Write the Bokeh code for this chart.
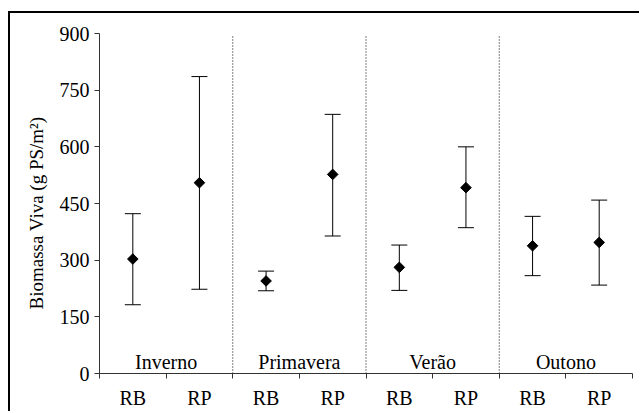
import math
from bokeh.plotting import figure
from bokeh.models import Range1d, FixedTicker, Whisker, ColumnDataSource, TeeHead
from bokeh.core.properties import value
from bokeh.embed import file_html
from bokeh.resources import INLINE

# ---- data ----
groups = ["RB", "RP", "RB", "RP", "RB", "RP", "RB", "RP"]
seasons = ["Inverno", "Primavera", "Verão", "Outono"]
means = [303, 505, 245, 527, 281, 492, 338, 347]
upper = [423, 786, 271, 686, 340, 600, 416, 459]
lower = [182, 223, 219, 364, 220, 386, 259, 234]
y_ticks = [0, 150, 300, 450, 600, 750, 900]

FONT = "Liberation Serif"
FS = "20px"

xs = [i + 0.5 for i in range(len(groups))]
src = ColumnDataSource(dict(x=xs, mean=means, upper=upper, lower=lower))

p = figure(width=631, height=400, output_backend="svg", toolbar_location=None,
           x_range=Range1d(0, len(groups)), y_range=Range1d(0, 900),
           min_border_left=89, min_border_right=9, min_border_top=20, min_border_bottom=40,
           styles={"margin-left": "8px", "margin-top": "11px",
                   "border-top": "2px solid black", "border-left": "2px solid black"})
p.outline_line_color = None
p.grid.visible = False
p.background_fill_color = "white"
p.border_fill_color = "white"

# y axis
p.yaxis.ticker = FixedTicker(ticks=y_ticks)
p.yaxis.major_tick_out = 5
p.yaxis.major_tick_in = 0
p.yaxis.minor_tick_line_color = None
p.yaxis.major_label_text_font = FONT
p.yaxis.major_label_text_font_size = FS
p.yaxis.major_label_text_color = "black"
p.yaxis.major_label_standoff = 5
p.yaxis.axis_line_color = "#333333"
p.yaxis.major_tick_line_color = "#333333"
p.yaxis.axis_label = "Biomassa Viva (g PS/m²)\u2002\u2002"
p.yaxis.axis_label_text_font = FONT
p.yaxis.axis_label_text_font_size = "19px"
p.yaxis.axis_label_text_font_style = "normal"
p.yaxis.axis_label_text_color = "black"
p.yaxis.axis_label_standoff = 10

# x axis: labels at category centers, tick marks at boundaries
p.xaxis.ticker = FixedTicker(ticks=xs, minor_ticks=list(range(len(groups) + 1)))
p.xaxis.major_label_overrides = {x: g for x, g in zip(xs, groups)}
p.xaxis.major_tick_out = 0
p.xaxis.major_tick_in = 0
p.xaxis.minor_tick_out = 5
p.xaxis.minor_tick_in = 0
p.xaxis.minor_tick_line_color = "#333333"
p.xaxis.axis_line_color = "#333333"
p.xaxis.major_label_text_font = FONT
p.xaxis.major_label_text_font_size = FS
p.xaxis.major_label_text_color = "black"
p.xaxis.major_label_standoff = 8

# season separators (dotted)
seps = [2, 4, 6]
p.segment(x0=seps, x1=seps, y0=[0] * 3, y1=[893] * 3, line_color="black",
          line_width=1, line_dash="1 2")

# season labels
p.text(x=[1, 3, 5, 7], y=[30] * 4, text=seasons, text_align="center",
       text_baseline="alphabetic", text_font=value(FONT), text_font_size=FS,
       text_color="black")

# error bars
w = Whisker(base="x", upper="upper", lower="lower", source=src, dimension="height",
            line_color="black", line_width=1,
            upper_head=TeeHead(size=16, line_color="black", line_width=1),
            lower_head=TeeHead(size=16, line_color="black", line_width=1))
p.add_layout(w)

# mean markers
p.scatter(x="x", y="mean", source=src, marker="square", size=7.5, angle=math.pi / 4,
          fill_color="black", line_color="black")

open("out.html", "w").write(file_html(p, INLINE))
